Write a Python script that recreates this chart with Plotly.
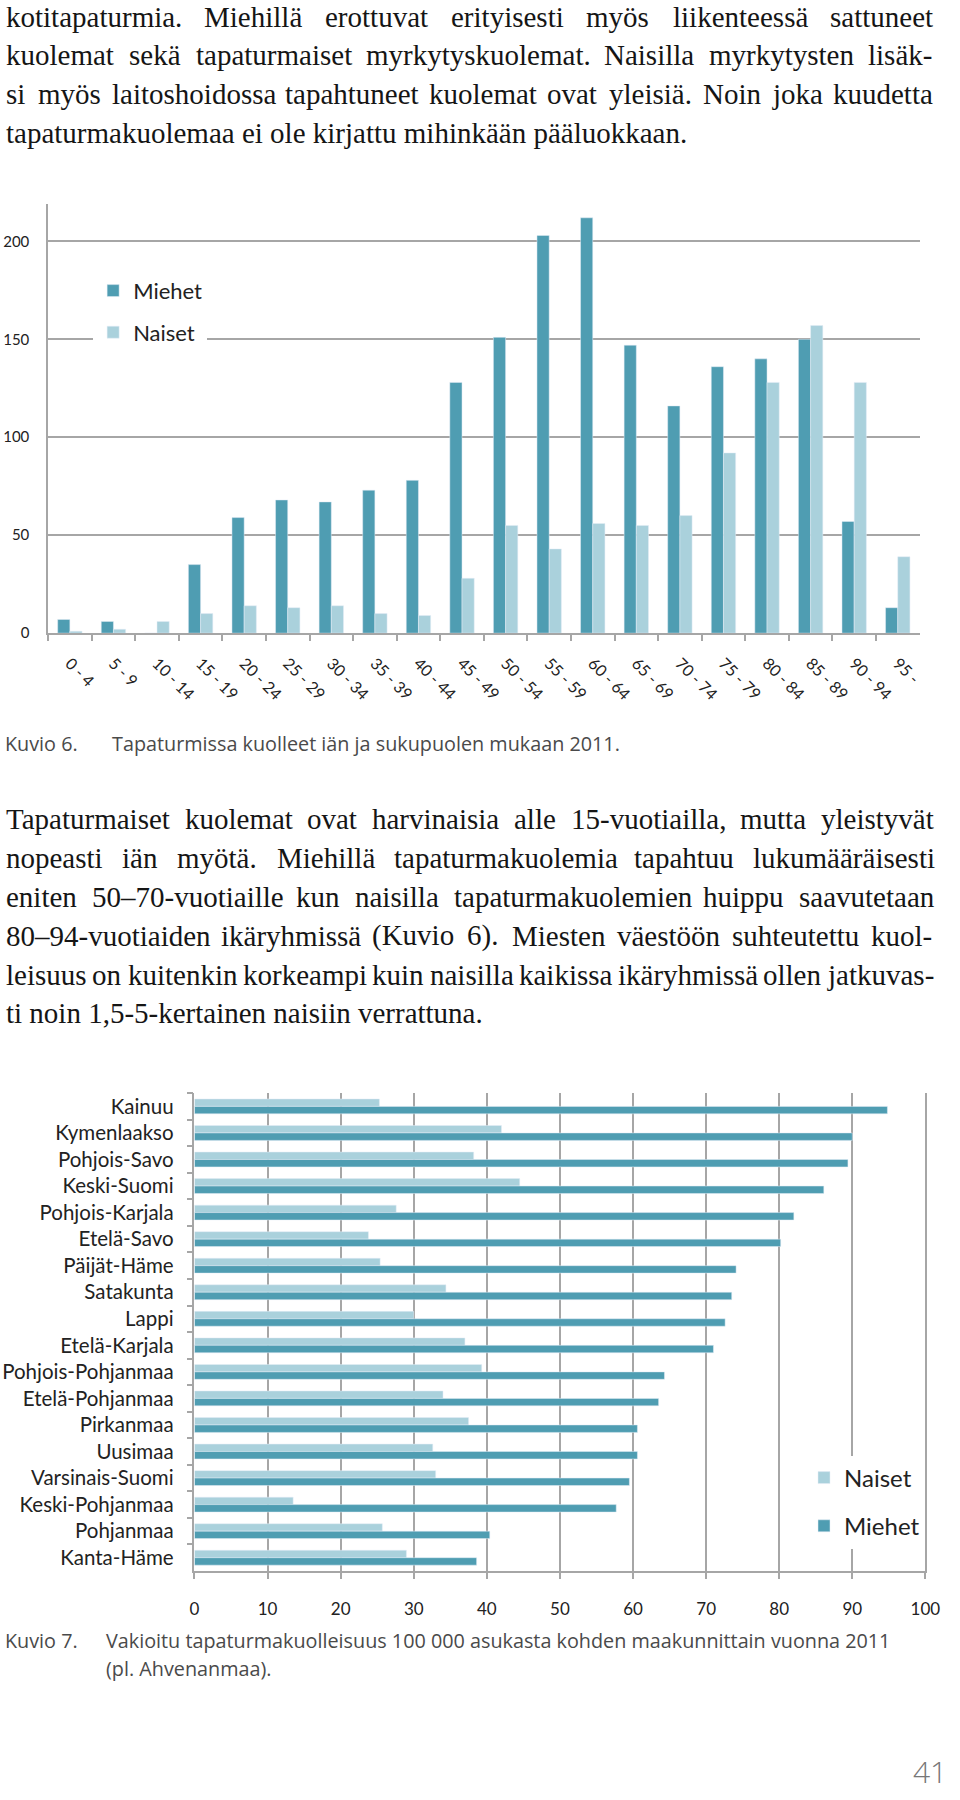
import plotly.graph_objects as go

# ---------------- data ----------------
age_groups = ["0 - 4", "5 - 9", "10 - 14", "15 - 19", "20 - 24", "25 - 29", "30 - 34",
              "35 - 39", "40 - 44", "45 - 49", "50 - 54", "55 - 59", "60 - 64", "65 - 69",
              "70 - 74", "75 - 79", "80 - 84", "85 - 89", "90 - 94", "95 -"]
men_by_age = [7, 6, 0, 35, 59, 68, 67, 73, 78, 128, 151, 203, 212, 147, 116, 136, 140, 150, 57, 13]
women_by_age = [1, 2, 6, 10, 14, 13, 14, 10, 9, 28, 55, 43, 56, 55, 60, 92, 128, 157, 128, 39]

regions = ["Kainuu", "Kymenlaakso", "Pohjois-Savo", "Keski-Suomi", "Pohjois-Karjala",
           "Etelä-Savo", "Päijät-Häme", "Satakunta", "Lappi", "Etelä-Karjala",
           "Pohjois-Pohjanmaa", "Etelä-Pohjanmaa", "Pirkanmaa", "Uusimaa",
           "Varsinais-Suomi", "Keski-Pohjanmaa", "Pohjanmaa", "Kanta-Häme"]
women_by_region = [25.3, 42.0, 38.2, 44.5, 27.6, 23.8, 25.4, 34.4, 30.0, 37.0,
                   39.3, 34.0, 37.5, 32.6, 33.0, 13.5, 25.7, 29.0]
men_by_region = [94.8, 90.0, 89.4, 86.1, 82.0, 80.2, 74.1, 73.5, 72.6, 71.0,
                 64.3, 63.5, 60.6, 60.6, 59.5, 57.7, 40.4, 38.6]

para1 = [
    "kotitapaturmia. Miehillä erottuvat erityisesti myös liikenteessä sattuneet",
    "kuolemat sekä tapaturmaiset myrkytyskuolemat. Naisilla myrkytysten lisäk-",
    "si myös laitoshoidossa tapahtuneet kuolemat ovat yleisiä. Noin joka kuudetta",
    "tapaturmakuolemaa ei ole kirjattu mihinkään pääluokkaan.",
]
para2 = [
    "Tapaturmaiset kuolemat ovat harvinaisia alle 15-vuotiailla, mutta yleistyvät",
    "nopeasti iän myötä. Miehillä tapaturmakuolemia tapahtuu lukumääräisesti",
    "eniten 50–70-vuotiaille kun naisilla tapaturmakuolemien huippu saavutetaan",
    "80–94-vuotiaiden ikäryhmissä (Kuvio 6). Miesten väestöön suhteutettu kuol-",
    "leisuus on kuitenkin korkeampi kuin naisilla kaikissa ikäryhmissä ollen jatkuvas-",
    "ti noin 1,5-5-kertainen naisiin verrattuna.",
]
cap6 = ("Kuvio 6.", "Tapaturmissa kuolleet iän ja sukupuolen mukaan 2011.")
cap7 = ("Kuvio 7.", "Vakioitu tapaturmakuolleisuus 100 000 asukasta kohden maakunnittain vuonna 2011",
        "(pl. Ahvenanmaa).")
page_no = "41"

# ---------------- style ----------------
W, H = 960, 1800
C_MEN = "#4f9db2"
C_WOMEN = "#aad1dc"
GRID = "#a6a6a6"
SANS = "Lato, 'Open Sans', sans-serif"
SERIF = "'Liberation Serif', 'DejaVu Serif', serif"
CAP = "'Open Sans', Lato, sans-serif"
BODY_SIZE = 29
TEXT_LEFT, TEXT_RIGHT = 1, 946

# Times/Liberation Serif advance widths (1/1000 em) used for justifying lines
_W = {' ': 250, '.': 250, ',': 250, '-': 333, '–': 500, '(': 333, ')': 333}
_W.update({c: 500 for c in "0123456789"})
_W.update(dict(a=444, b=500, c=444, d=500, e=444, f=333, g=500, h=500, i=278, j=278,
               k=500, l=278, m=778, n=500, o=500, p=500, q=500, r=333, s=389, t=278,
               u=500, v=500, w=722, x=500, y=500, z=444))
_W.update({'ä': 444, 'ö': 500, 'å': 444, 'T': 611, 'M': 889, 'N': 722, 'K': 722})


def word_width(wd, size):
    return sum(_W.get(ch, 500) for ch in wd) / 1000 * size


def px_x(x):
    return x / W


def px_y(y):
    return 1 - y / H


fig = go.Figure()

# chart 1
fig.add_trace(go.Bar(x=age_groups, y=men_by_age, name="Miehet", marker_color=C_MEN,
                     xaxis="x", yaxis="y", legend="legend", legendgroup="m1"))
fig.add_trace(go.Bar(x=age_groups, y=women_by_age, name="Naiset", marker_color=C_WOMEN,
                     xaxis="x", yaxis="y", legend="legend", legendgroup="w1"))
# chart 2
fig.add_trace(go.Bar(y=regions, x=women_by_region, name="Naiset", orientation="h",
                     marker_color=C_WOMEN, xaxis="x2", yaxis="y2", legend="legend2",
                     legendgroup="w2"))
fig.add_trace(go.Bar(y=regions, x=men_by_region, name="Miehet", orientation="h",
                     marker_color=C_MEN, xaxis="x2", yaxis="y2", legend="legend2",
                     legendgroup="m2"))

annotations = []


def text(x, y, s, size, family, color="#151515", anchor="left", weight=None, yanchor="middle"):
    f = dict(size=size, family=family, color=color)
    if weight:
        f["weight"] = weight
    annotations.append(dict(x=px_x(x), y=px_y(y), xref="paper", yref="paper", text=s,
                            showarrow=False, xanchor=anchor, yanchor=yanchor,
                            borderpad=0, borderwidth=0, font=f))


def paragraph(lines, y0, step):
    for i, line in enumerate(lines):
        y = y0 + step * i
        if i == len(lines) - 1:
            text(TEXT_LEFT, y, line, BODY_SIZE, SERIF)
            continue
        words = line.split(" ")
        total = sum(word_width(w, BODY_SIZE) for w in words)
        gap = (TEXT_RIGHT - TEXT_LEFT - total) / (len(words) - 1)
        x = TEXT_LEFT
        for w in words:
            text(x, y, w, BODY_SIZE, SERIF)
            x += word_width(w, BODY_SIZE) + gap


paragraph(para1, 17, 38.7)
paragraph(para2, 823, 39)

CAPC = "#4a4a4a"
text(0, 747, cap6[0], 19.8, CAP, CAPC)
text(109, 747, cap6[1], 19.8, CAP, CAPC)
text(0, 1648, cap7[0], 19.8, CAP, CAPC)
text(103, 1648, cap7[1], 19.8, CAP, CAPC)
text(103, 1676, cap7[2], 19.8, CAP, CAPC)
text(962, 1800, page_no, 30, CAP, "#777777", anchor="right", weight=300, yanchor="bottom")

fig.update_layout(
    width=W, height=H,
    margin=dict(l=0, r=0, t=0, b=0),
    paper_bgcolor="white", plot_bgcolor="white",
    barmode="group", bargap=0.44, bargroupgap=0,
    annotations=annotations,
    xaxis=dict(domain=[px_x(44), px_x(934)], anchor="y", type="category",
               showline=True, linecolor=GRID, linewidth=1.5,
               ticks="outside", tickson="boundaries", ticklen=6, tickcolor=GRID,
               tickwidth=1.5, tickangle=45, ticklabelstandoff=13,
               tickfont=dict(family=SANS, size=16, color="#222222"),
               showgrid=False, fixedrange=True),
    yaxis=dict(domain=[px_y(636), px_y(205)], anchor="x", range=[0, 219],
               tickvals=[0, 50, 100, 150, 200], showline=True, linecolor=GRID,
               linewidth=1.5, ticks="", ticklabelstandoff=14,
               showgrid=True, gridcolor=GRID, gridwidth=1.5, zeroline=False,
               tickfont=dict(family=SANS, size=15, color="#222222")),
    xaxis2=dict(domain=[px_x(193.5), px_x(940)], anchor="y2", range=[0, 100],
                dtick=10, tick0=0, showline=True, linecolor=GRID, linewidth=1.5,
                ticks="outside", ticklen=6, tickcolor=GRID, tickwidth=1.5,
                showgrid=True, gridcolor=GRID, gridwidth=1.5, zeroline=False,
                ticklabelstandoff=16,
                tickfont=dict(family=SANS, size=17, color="#222222")),
    yaxis2=dict(domain=[px_y(1578), px_y(1098)], anchor="x2", type="category",
                autorange="reversed", showline=True, linecolor=GRID, linewidth=1.5,
                mirror=True,
                ticks="outside", tickson="boundaries", ticklen=6, tickcolor=GRID,
                tickwidth=1.5, ticklabelstandoff=15, showgrid=False,
                tickfont=dict(family=SANS, size=20.5, color="#222222")),
    legend=dict(x=px_x(90), y=px_y(271), xanchor="left", yanchor="top",
                bgcolor="white", borderwidth=0, tracegroupgap=10,
                font=dict(family=SANS, size=22, color="#222222")),
    legend2=dict(x=px_x(816), y=px_y(1462), xanchor="left", yanchor="top",
                 bgcolor="white", borderwidth=0, tracegroupgap=14,
                 font=dict(family=SANS, size=24, color="#222222")),
)

fig.write_html("out.html")
